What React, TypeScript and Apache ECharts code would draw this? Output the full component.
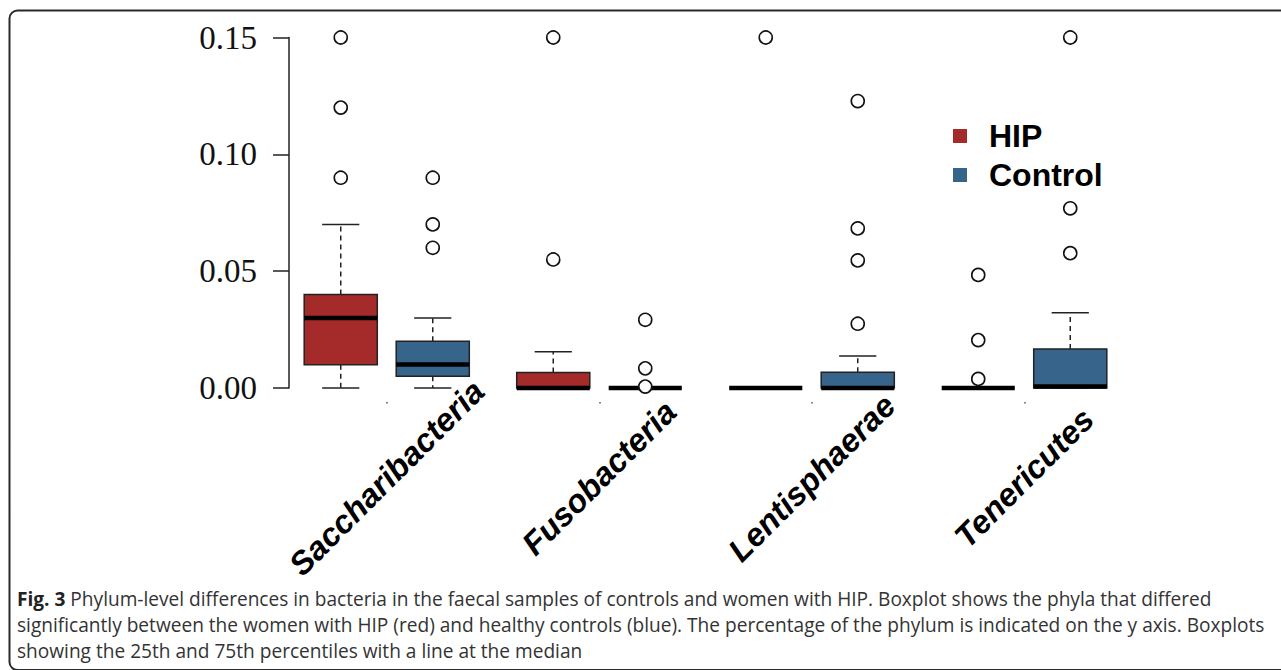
import React, { useEffect, useRef } from "react";
import * as echarts from "echarts";

// ---- data ----
const categories = ["Saccharibacteria", "Fusobacteria", "Lentisphaerae", "Tenericutes"];
const groups = ["HIP", "Control"];
const groupColors = ["#A52A2A", "#36648B"];
// [lower whisker, Q1, median, Q3, upper whisker]
const hipStats = [
  [0, 0.01, 0.03, 0.04, 0.07],
  [0, 0, 0, 0.0066, 0.0155],
  [0, 0, 0, 0, 0],
  [0, 0, 0, 0, 0],
];
const controlStats = [
  [0, 0.005, 0.0101, 0.02, 0.03],
  [0, 0, 0, 0, 0],
  [0, 0, 0, 0.0067, 0.0137],
  [0, 0, 0.0006, 0.0167, 0.0322],
];
const hipOutliers = [
  [0.09, 0.12, 0.15],
  [0.055, 0.15],
  [0.15],
  [0.0039, 0.0205, 0.0484],
];
const controlOutliers = [
  [0.06, 0.07, 0.09],
  [0.0006, 0.0084, 0.0292],
  [0.0275, 0.0546, 0.0683, 0.1228],
  [0.0577, 0.0769, 0.15],
];
const yTicks = [0, 0.05, 0.1, 0.15];
const captionLines = [
  "{b|Fig. 3} Phylum-level differences in bacteria in the faecal samples of controls and women with HIP. Boxplot shows the phyla that differed",
  "significantly between the women with HIP (red) and healthy controls (blue). The percentage of the phylum is indicated on the y axis. Boxplots",
  "showing the 25th and 75th percentiles with a line at the median",
];

// ---- layout constants ----
const GROUP_OFFSET = 0.2165;
const BOX_WIDTH = 0.344;
const CAP_WIDTH = 0.175;

function boxData(stats: number[][], sign: number) {
  return stats.map((s, i) => [i + 1 + sign * GROUP_OFFSET, ...s]);
}
function outlierData(outs: number[][], sign: number) {
  const res: number[][] = [];
  outs.forEach((arr, i) => arr.forEach((v) => res.push([i + 1 + sign * GROUP_OFFSET, v])));
  return res;
}

function renderBox(params: any, api: any) {
  const x = api.value(0);
  const low = api.value(1);
  const q1 = api.value(2);
  const med = api.value(3);
  const q3 = api.value(4);
  const high = api.value(5);
  const color = api.visual("color");
  const cx = api.coord([x, 0])[0];
  const yLow = api.coord([x, low])[1];
  const yQ1 = api.coord([x, q1])[1];
  const yMed = api.coord([x, med])[1];
  const yQ3 = api.coord([x, q3])[1];
  const yHigh = api.coord([x, high])[1];
  const half = api.size([BOX_WIDTH, 0])[0] / 2;
  const capHalf = api.size([CAP_WIDTH, 0])[0] / 2;
  const ink = "#222";
  const children: any[] = [];
  if (high > q3) {
    children.push({ type: "line", shape: { x1: cx, y1: yQ3, x2: cx, y2: yHigh }, style: { stroke: ink, lineWidth: 1.5, lineDash: [5, 4] } });
  }
  children.push({ type: "line", shape: { x1: cx - capHalf, y1: yHigh, x2: cx + capHalf, y2: yHigh }, style: { stroke: ink, lineWidth: 1.5 } });
  if (q1 > low) {
    children.push({ type: "line", shape: { x1: cx, y1: yQ1, x2: cx, y2: yLow }, style: { stroke: ink, lineWidth: 1.5, lineDash: [5, 4] } });
  }
  children.push({ type: "line", shape: { x1: cx - capHalf, y1: yLow, x2: cx + capHalf, y2: yLow }, style: { stroke: ink, lineWidth: 1.5 } });
  if (q3 > q1) {
    children.push({ type: "rect", shape: { x: cx - half, y: yQ3, width: half * 2, height: yQ1 - yQ3 }, style: { fill: color, stroke: ink, lineWidth: 1.5 } });
  }
  children.push({ type: "line", shape: { x1: cx - half, y1: yMed, x2: cx + half, y2: yMed }, style: { stroke: "#000", lineWidth: 4.5 } });
  return { type: "group", children };
}

export default function App() {
  const ref = useRef<HTMLDivElement>(null);
  useEffect(() => {
    if (!ref.current) return;
    const chart = echarts.init(ref.current, undefined, { renderer: "svg" });
    const stats = [hipStats, controlStats];
    const outs = [hipOutliers, controlOutliers];
    const series: any[] = [];
    groups.forEach((g, gi) => {
      const sign = gi === 0 ? -1 : 1;
      series.push({
        name: g,
        type: "custom",
        renderItem: renderBox,
        itemStyle: { color: groupColors[gi] },
        data: boxData(stats[gi], sign),
        z: 2,
      });
    });
    groups.forEach((g, gi) => {
      const sign = gi === 0 ? -1 : 1;
      series.push({
        name: g + " outliers",
        type: "scatter",
        symbol: "circle",
        symbolSize: 13,
        itemStyle: { color: "#fff", borderColor: "#111", borderWidth: 1.6, opacity: 1 },
        data: outlierData(outs[gi], sign),
        z: 3,
        silent: true,
      });
    });

    chart.setOption({
      animation: false,
      backgroundColor: "#fff",
      grid: { left: 289, top: 37.5, width: 841.5, height: 350.5, containLabel: false },
      xAxis: [
        {
          type: "value",
          min: 0.54,
          max: 4.5,
          axisLine: { show: false },
          axisTick: { show: false },
          splitLine: { show: false },
          axisLabel: {
            customValues: categories.map((_, i) => i + 1),
            formatter: (v: number) => categories[Math.round(v) - 1] || "",
            rotate: 45,
            align: "center",
            verticalAlign: "middle",
            margin: 90,
            fontFamily: "Liberation Sans",
            fontStyle: "italic",
            fontWeight: "bold",
            fontSize: 32.5,
            color: "#000",
          },
        },
        {
          type: "value",
          min: 0.54,
          max: 4.5,
          position: "bottom",
          offset: 14,
          axisLine: { show: false },
          splitLine: { show: false },
          axisLabel: { show: false },
          axisTick: {
            show: true,
            customValues: categories.map((_, i) => i + 1),
            length: 1.5,
            lineStyle: { color: "#555", width: 1.5 },
          },
        },
      ],
      yAxis: {
        type: "value",
        min: 0,
        max: 0.15,
        interval: 0.05,
        axisLine: { show: true, lineStyle: { color: "#222", width: 1.5 } },
        axisTick: { show: true, length: 16, lineStyle: { color: "#222", width: 1.5 }, customValues: yTicks },
        splitLine: { show: false },
        axisLabel: {
          margin: 32,
          formatter: (v: number) => v.toFixed(2),
          fontFamily: "Liberation Serif",
          fontSize: 33,
          color: "#111",
        },
      },
      legend: {
        data: groups,
        orient: "vertical",
        left: 953,
        top: 120,
        padding: 0,
        icon: "rect",
        itemWidth: 14,
        itemHeight: 14,
        itemGap: 7,
        selectedMode: false,
        textStyle: {
          fontFamily: "Liberation Sans",
          fontWeight: "bold",
          fontSize: 32,
          lineHeight: 32,
          color: "#000",
          padding: [0, 0, 0, 17],
        },
      },
      graphic: [
        {
          type: "rect",
          shape: { x: 9.5, y: 10.5, width: 1300, height: 659.5, r: 8 },
          style: { fill: "none", stroke: "#2a2a2a", lineWidth: 2 },
          silent: true,
        },
        ...captionLines.map((t, i) => ({
          type: "text",
          x: 17,
          y: 598.5 + i * 26.3,
          silent: true,
          style: {
            text: t,
            fontFamily: "Open Sans",
            fontSize: 19.1,
            fill: "#333",
            verticalAlign: "middle",
            align: "left",
            rich: {
              b: { fontFamily: "Open Sans", fontSize: 19.1, fontWeight: "bold", fill: "#222", color: "#222" },
            },
          },
        })),
      ],
      series,
    });
    return () => chart.dispose();
  }, []);
  return <div ref={ref} style={{ position: "fixed", left: 0, top: 0, width: 1281, height: 670 }} />;
}
